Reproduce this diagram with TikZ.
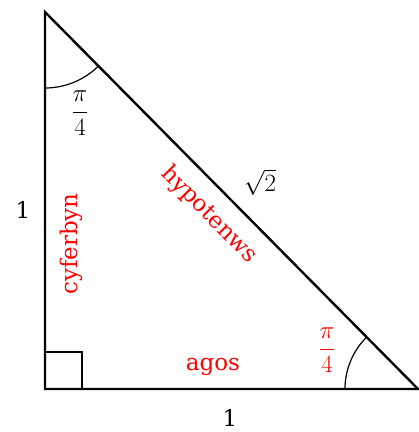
\documentclass[tikz,border=0pt]{standalone}
\usepackage{amsmath, amssymb}
\usepackage{fontspec}
\setmainfont{DejaVu Serif}
\usepackage{xcolor}
\usepackage{tikz}
\usetikzlibrary{calc}
\definecolor{labelred}{RGB}{255, 0, 0}

\begin{document}
\begin{tikzpicture}[
					x=1pt, y=-1pt,
					side/.style={line width=2.4pt, line join=miter},
					thin/.style={line width=1.2pt},
					lbl/.style={font=\fontsize{23}{26}\selectfont, inner sep=0pt},
					redlbl/.style={lbl, text=labelred},
					frac/.style={font=\fontsize{25}{28}\selectfont, inner sep=0pt}
				]
				\useasboundingbox (0,0) rectangle (419,432);

				% 1. Triangle
				\coordinate (top) at (45,12);
				\coordinate (corner) at (45,389);
				\coordinate (right) at (418,389);
				\draw[side] (top) -- (corner) -- (right) -- cycle;

				% 2. Angle marks
				\draw[thin] (corner) ++(0,-37) -- ++(37,0) -- ++(0,37);
				\draw[thin] ($(top)!76pt!(corner)$) arc[start angle=90, end angle=45.3, radius=76];
				\draw[thin] ($(right)!73pt!(corner)$) arc[start angle=180, end angle=225.3, radius=73];

				% 3. Labels
				\node[lbl] (leftone) at (23,210) {1};
				\node[lbl] (baseone) at (230,418) {1};
				\node[frac, font=\fontsize{28}{30}\selectfont] (hyplen) at (260,182) {$\sqrt{2}$};
				\node[redlbl, rotate=-45.3] (hyp) at (209,215) {hypotenws};
				\node[redlbl, rotate=90] (opp) at (71,244) {cyferbyn};
				\node[redlbl] (adj) at (213,367) {agos};
				\node[frac] (topangle) at (80,113) {$\dfrac{\pi}{4}$};
				\node[frac, text=labelred] (rightangle) at (327,350) {$\dfrac{\pi}{4}$};

			\end{tikzpicture}
\end{document}
